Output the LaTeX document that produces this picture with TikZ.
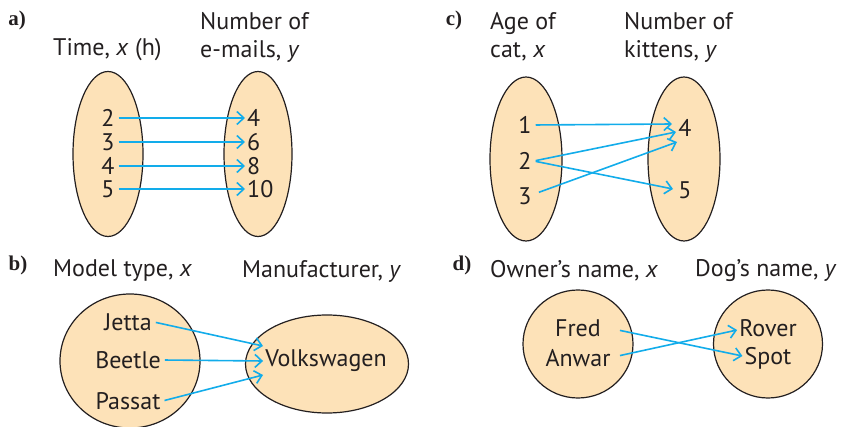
\documentclass[tikz,border=0pt]{standalone}
\usepackage{fontspec}
\setmainfont{PT Sans}
\newfontfamily\tagfont{Liberation Serif}
\usetikzlibrary{arrows.meta,shapes.geometric}
\definecolor{peach}{HTML}{FDE2B8}
\definecolor{link}{HTML}{12ACEA}
\definecolor{ink}{HTML}{231F20}

\tikzset{
  setshape/.style={ellipse, draw=ink, line width=1.2pt, fill=peach, inner sep=0pt},
  item/.style={text=ink, inner sep=2pt, font=\fontsize{24}{27}\selectfont},
  head/.style={text=ink, inner sep=0pt, align=left, font=\fontsize{24}{28}\selectfont},
  tag/.style={text=ink, inner sep=0pt, font=\tagfont\bfseries\fontsize{21}{24}\selectfont},
  maps/.style={draw=link, line width=1.6pt, -{Straight Barb[length=7pt,width=13pt,line width=1.6pt]}, shorten <=2pt}
}

\begin{document}
\begin{tikzpicture}[x=1pt,y=-1pt]
\useasboundingbox (0,0) rectangle (843,427);
\clip (0,0) rectangle (843,427);

% ---------- a) ----------
\node[tag] (ta) at (17,20) {a)};
\node[head, anchor=west] (ha1) at (53,50) {Time, \textit{x} (h)};
\node[head, anchor=west] (ha2) at (200,37) {Number of\\e-mails, \textit{y}};
\node[setshape, minimum width=70, minimum height=165] (ea) at (108,154) {};
\node[setshape, minimum width=68, minimum height=165] (fa) at (258,154) {};
\node[item] (a2) at (108,118) {2};
\node[item] (a3) at (108,142) {3};
\node[item] (a4) at (108,166) {4};
\node[item] (a5) at (108,189) {5};
\node[item, anchor=west] (b4) at (245,118) {4};
\node[item, anchor=west] (b6) at (245,142) {6};
\node[item, anchor=west] (b8) at (245,166) {8};
\node[item, anchor=west] (b10) at (245,189) {10};
\draw[maps] (a2.east) -- (b4.west);
\draw[maps] (a3.east) -- (b6.west);
\draw[maps] (a4.east) -- (b8.west);
\draw[maps] (a5.east) -- (b10.west);

% ---------- c) ----------
\node[tag] (tc) at (454,20) {c)};
\node[head, anchor=west] (hc1) at (490,37) {Age of\\cat, \textit{x}};
\node[head, anchor=west] (hc2) at (624,37) {Number of\\kittens, \textit{y}};
\node[setshape, minimum width=72, minimum height=164] (ec) at (526,159) {};
\node[setshape, minimum width=72, minimum height=164] (fc) at (684,159) {};
\node[item] (c1) at (525,125) {1};
\node[item] (c2) at (525,161) {2};
\node[item] (c3) at (525,196) {3};
\node[item] (d4) at (685,128) {4};
\node[item] (d5) at (685,190) {5};
\coordinate (c3s) at (537,193);
\coordinate (d4a) at (672,124);
\coordinate (d4b) at (676,132);
\coordinate (d4c) at (677,142);
\coordinate (d5a) at (673,189);
\draw[maps] (c1.east) -- (d4a);
\draw[maps] (c2.east) -- (d4b);
\draw[maps] (c2.east) -- (d5a);
\draw[maps] (c3s) -- (d4c);

% ---------- b) ----------
\node[tag] (tb) at (18,265) {b)};
\node[head, anchor=west] (hb1) at (53,271) {Model type, \textit{x}};
\node[head, anchor=west] (hb2) at (242,271) {Manufacturer, \textit{y}};
\node[setshape, minimum width=140, minimum height=134] (eb) at (130,361) {};
\node[setshape, minimum width=163, minimum height=98] (fb) at (327,364) {};
\node[item] (jetta) at (128,322) {Jetta};
\node[item] (beetle) at (128,360) {Beetle};
\node[item] (passat) at (128,401) {Passat};
\node[item] (vw) at (326,361) {Volkswagen};
\coordinate (vwj) at (263,346);
\coordinate (vwp) at (263,375);
\draw[maps] (jetta.east) -- (vwj);
\draw[maps] (beetle.east) -- (vw.west);
\draw[maps] (passat.east) -- (vwp);

% ---------- d) ----------
\node[tag] (td) at (462,265) {d)};
\node[head, anchor=west] (hd1) at (490,271) {Owner’s name, \textit{x}};
\node[head, anchor=west] (hd2) at (695,271) {Dog’s name, \textit{y}};
\node[setshape, minimum width=110, minimum height=108] (ed) at (578,344) {};
\node[setshape, minimum width=109, minimum height=108] (fd) at (768,344) {};
\node[item] (fred) at (578,328) {Fred};
\node[item] (anwar) at (578,358) {Anwar};
\node[item] (rover) at (768,328) {Rover};
\node[item] (spot) at (768,358) {Spot};
\coordinate (fredo) at (618,330);
\coordinate (anwaro) at (618,356);
\draw[maps] (fredo) -- ([yshift=2pt]spot.west);
\draw[maps] (anwaro) -- ([yshift=-2pt]rover.west);
\end{tikzpicture}
\end{document}
